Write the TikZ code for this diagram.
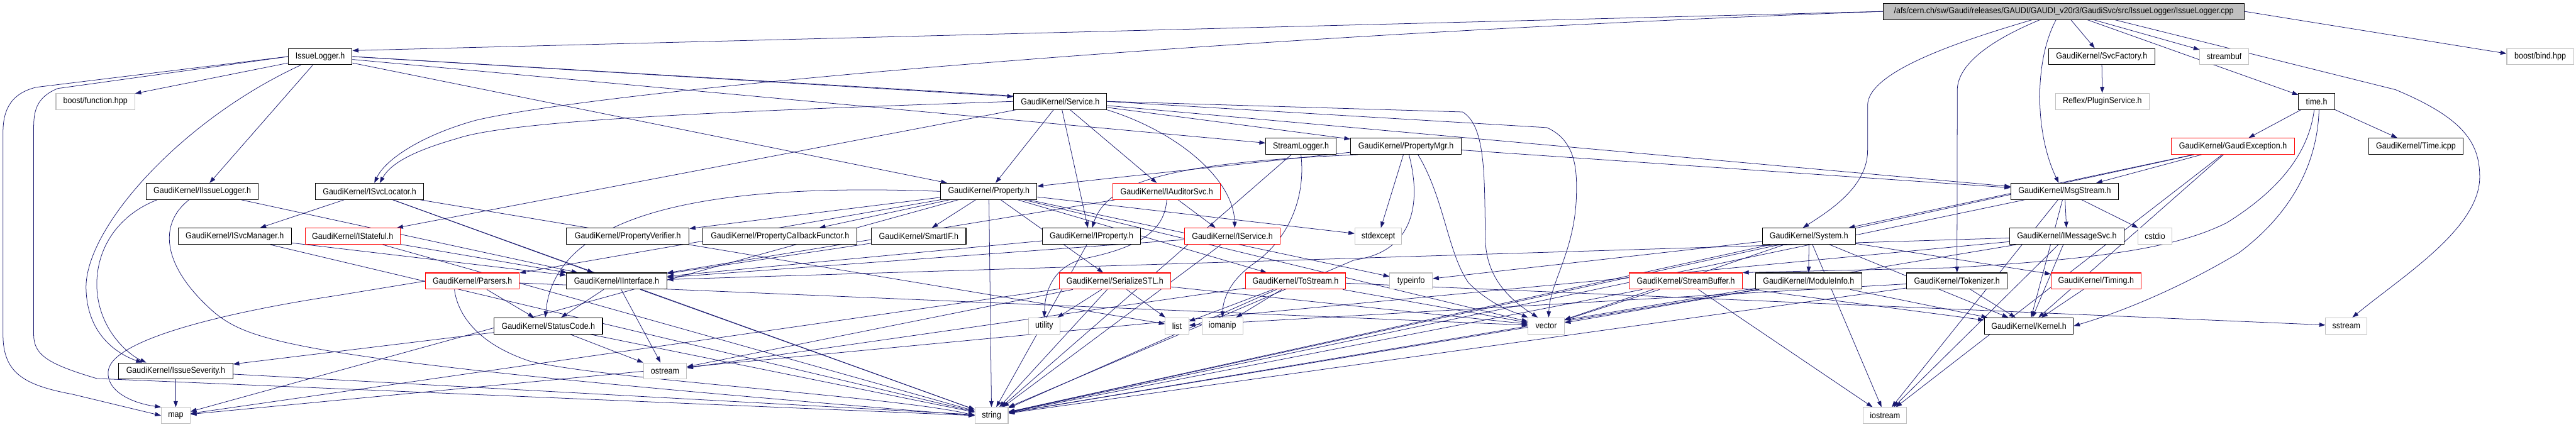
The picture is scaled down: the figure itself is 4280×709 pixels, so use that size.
\documentclass[tikz,border=0pt]{standalone}
\usepackage{fontspec}
\newfontfamily\gfont[FakeStretch=0.9]{Liberation Sans}
\usetikzlibrary{arrows.meta}
\definecolor{edgec}{HTML}{191970}
\definecolor{gbord}{HTML}{BFBFBF}
\definecolor{rootfill}{HTML}{BFBFBF}
\pgfdeclarelayer{edgelayer}
\pgfsetlayers{edgelayer,main}
\tikzset{
  bx/.style={draw=black, fill=white, line width=1.1pt, minimum height=27pt, inner sep=0pt, font=\gfont\fontsize{14.5}{16}\selectfont},
  gx/.style={bx, draw=gbord},
  rx/.style={bx, draw=red},
  ox/.style={bx, fill=rootfill},
  e/.style={draw=edgec, line width=0.8pt, -{Triangle[length=10pt,width=7pt]}}
}
\begin{document}
\begin{tikzpicture}[x=1pt,y=-1pt]
\useasboundingbox (0,0) rectangle (4280,709);
% row 0
\node[ox, minimum width=600pt] (root) at (3429,19) {/afs/cern.ch/sw/Gaudi/releases/GAUDI/GAUDI\_v20r3/GaudiSvc/src/IssueLogger/IssueLogger.cpp};
% row 1
\node[bx, minimum width=106pt] (IL) at (532,94) {IssueLogger.h};
\node[bx, minimum width=176pt] (SF) at (3492,94) {GaudiKernel/SvcFactory.h};
\node[gx, minimum width=81pt] (sbuf) at (3695.5,94) {streambuf};
\node[gx, minimum width=111pt] (bind) at (4220.5,94) {boost/bind.hpp};
% row 2
\node[gx, minimum width=131pt] (bfun) at (158.5,168.5) {boost/function.hpp};
\node[bx, minimum width=155pt] (Svc) at (1761.5,168.5) {GaudiKernel/Service.h};
\node[gx, minimum width=156pt] (RPS) at (3493,168.5) {Reflex/PluginService.h};
\node[bx, minimum width=60pt] (timeh) at (3849,168.5) {time.h};
% row 3
\node[bx, minimum width=117pt] (SL) at (2161.5,243) {StreamLogger.h};
\node[bx, minimum width=184pt] (PMgr) at (2336,243) {GaudiKernel/PropertyMgr.h};
\node[rx, minimum width=204pt] (GE) at (3710,243) {GaudiKernel/GaudiException.h};
\node[bx, minimum width=156pt] (TI) at (4014,243) {GaudiKernel/Time.icpp};
% row 4
\node[bx, minimum width=186pt] (IIL) at (336,318) {GaudiKernel/IIssueLogger.h};
\node[bx, minimum width=180pt] (ISL) at (614,318) {GaudiKernel/ISvcLocator.h};
\node[bx, minimum width=160pt] (Prop) at (1643,318) {GaudiKernel/Property.h};
\node[rx, minimum width=179pt] (IAud) at (1938.5,318) {GaudiKernel/IAuditorSvc.h};
\node[bx, minimum width=179pt] (MS) at (3430.5,318) {GaudiKernel/MsgStream.h};
% row 5
\node[bx, minimum width=188pt] (ISM) at (390,392.5) {GaudiKernel/ISvcManager.h};
\node[rx, minimum width=158pt] (IStf) at (586,392.5) {GaudiKernel/IStateful.h};
\node[bx, minimum width=204pt] (PV) at (1043,392.5) {GaudiKernel/PropertyVerifier.h};
\node[bx, minimum width=256pt] (PCF) at (1296,392.5) {GaudiKernel/PropertyCallbackFunctor.h};
\node[bx, minimum width=157pt] (SIF) at (1526.5,392.5) {GaudiKernel/SmartIF.h};
\node[bx, minimum width=163pt] (IProp) at (1813.5,392.5) {GaudiKernel/IProperty.h};
\node[rx, minimum width=159pt] (ISvc) at (2047.5,392.5) {GaudiKernel/IService.h};
\node[gx, minimum width=78pt] (stdexc) at (2290,392.5) {stdexcept};
\node[bx, minimum width=155pt] (Sys) at (3005.5,392.5) {GaudiKernel/System.h};
\node[bx, minimum width=190pt] (IMS) at (3434,392.5) {GaudiKernel/IMessageSvc.h};
\node[gx, minimum width=57pt] (cstdio) at (3580.5,392.5) {cstdio};
% row 6
\node[rx, minimum width=156pt] (Pars) at (785,467) {GaudiKernel/Parsers.h};
\node[bx, minimum width=167pt] (II) at (1024.5,467) {GaudiKernel/IInterface.h};
\node[rx, minimum width=185pt] (SSTL) at (1852.5,467) {GaudiKernel/SerializeSTL.h};
\node[rx, minimum width=167pt] (ToS) at (2152.5,467) {GaudiKernel/ToStream.h};
\node[gx, minimum width=71pt] (typeinfo) at (2344.5,467) {typeinfo};
\node[rx, minimum width=188pt] (SB) at (2801,467) {GaudiKernel/StreamBuffer.h};
\node[bx, minimum width=176pt] (MI) at (3005,467) {GaudiKernel/ModuleInfo.h};
\node[bx, minimum width=167pt] (Tok) at (3251.5,467) {GaudiKernel/Tokenizer.h};
\node[rx, minimum width=149pt] (Tim) at (3482.5,467) {GaudiKernel/Timing.h};
% row 7
\node[bx, minimum width=180pt] (SC) at (911,541.5) {GaudiKernel/StatusCode.h};
\node[gx, minimum width=52pt] (utility) at (1735,541.5) {utility};
\node[gx, minimum width=39pt] (list) at (1955.5,541.5) {list};
\node[gx, minimum width=68pt] (iomanip) at (2031,541.5) {iomanip};
\node[gx, minimum width=60pt] (vector) at (2569,541.5) {vector};
\node[bx, minimum width=148pt] (Kern) at (3371,541.5) {GaudiKernel/Kernel.h};
\node[gx, minimum width=69pt] (sstream) at (3898.5,541.5) {sstream};
% row 8
\node[bx, minimum width=190pt] (IS) at (292,616.5) {GaudiKernel/IssueSeverity.h};
\node[gx, minimum width=72pt] (ostream) at (1105,616.5) {ostream};
% row 9
\node[gx, minimum width=48pt] (map) at (292,690.5) {map};
\node[gx, minimum width=55pt] (string) at (1647.5,690.5) {string};
\node[gx, minimum width=72pt] (iostream) at (3132,690.5) {iostream};

\begin{pgfonlayer}{edgelayer}
% ---------- straight edges
\foreach \a/\b in {root/SF, root/sbuf, root/timeh,
  SF/RPS, timeh/GE, timeh/TI,
  IL/bfun, IL/IIL, IL/SL, IL/Prop,
  Svc/Prop, Svc/IAud, Svc/PMgr, Svc/IStf, Svc/MS,
  PMgr/Prop, PMgr/stdexc, PMgr/MS,
  GE/MS, GE/Sys, GE/Kern, GE/string, GE/iostream,
  IIL/II, ISL/ISM, ISL/II, ISL/list, ISL/string,
  Prop/PV, Prop/PCF, Prop/SIF, Prop/stdexc, Prop/typeinfo, Prop/ToS, Prop/Pars, Prop/SSTL, Prop/vector, Prop/string, Prop/map,
  IAud/II,
  MS/IMS, MS/cstdio, MS/Kern, MS/iostream, MS/string,
  ISM/II, ISM/string, IStf/II, IStf/string, SIF/II, IProp/II, IProp/string, ISvc/II, ISvc/string,
  Sys/MI, Sys/Tim, Sys/typeinfo, Sys/Kern, Sys/vector, Sys/string, Sys/iostream,
  IMS/II, IMS/Kern, IMS/string, IMS/map, IMS/iostream,
  Pars/SC, Pars/vector, II/SC, II/ostream, II/string,
  SSTL/utility, SSTL/list, SSTL/vector, SSTL/string, SSTL/map, SSTL/ostream,
  ToS/list, ToS/iomanip, ToS/vector, ToS/string, ToS/sstream, ToS/ostream,
  SB/vector, SB/string, SB/iostream, SB/Kern,
  MI/Kern, MI/string, MI/vector,
  Tok/Kern, Tok/string, Tok/list,
  Tim/Kern,
  SC/ostream, SC/IS, SC/string,
  IS/map, IS/string, SL/string}
  \draw[e] (\a) -- (\b);

\draw[e] (root.west) -- ([yshift=10pt]IL.east);
\draw[e] (root.east) -- ([yshift=5pt]bind.west);
\draw[e] (IL.east) -- ([yshift=8pt]Svc.west);
\draw[e] (Svc) -- ([xshift=-6pt]IProp.north);
\draw[e] (IAud) -- ([xshift=-28pt]ISvc.north);

% ---------- curved edges
\draw[e] (root.west) .. controls (2000,60) and (1000,150) .. (790,200) .. controls (700,225) and (640,265) .. ([xshift=8pt]ISL.north);
\draw[e] ([xshift=-13pt]root.south) .. controls (3380,100) and (3380,220) .. ([xshift=-10pt]MS.north);
\draw[e] ([xshift=-53pt]root.south) .. controls (3250,70) and (3103,120) .. (3103,175) -- (3103,250) .. controls (3103,310) and (3040,350) .. ([xshift=-10pt]Sys.north);
\draw[e] ([xshift=-40pt]root.south) .. controls (3300,70) and (3252,110) .. (3252,150) -- (Tok.north);
\draw[e] ([xshift=85pt]root.south) -- (3980,149) .. controls (4090,195) and (4120,235) .. (4120,294) .. controls (4120,380) and (3990,460) .. ([xshift=10pt]sstream.north);
\draw[e] (IL.west) -- (60,145) .. controls (20,155) and (5,180) .. (5,220) -- (5,556) .. controls (5,620) and (40,640) .. (120,655) -- (map.west);
\draw[e] (IL.west) -- (96,147) .. controls (64,160) and (56,180) .. (56,210) -- (56,556) .. controls (56,590) and (80,605) .. (161,629) -- (string.west);
\draw[e] ([xshift=-32pt]IL.south) .. controls (300,200) and (140,380) .. (143,480) .. controls (145,560) and (200,590) .. ([xshift=-56pt]IS.north);
\draw[e] ([xshift=-75pt]IIL.south) .. controls (190,360) and (158,420) .. (161,480) .. controls (165,550) and (215,590) .. ([xshift=-49pt]IS.north);
\draw[e] ([xshift=-22pt]IIL.south) .. controls (265,370) and (265,440) .. (357,520) .. controls (420,570) and (500,600) .. (string.west);
\draw[e] (Svc.west) .. controls (1200,185) and (850,200) .. (760,230) .. controls (690,250) and (650,270) .. ([xshift=17pt]ISL.north);
\draw[e] (Svc.south east) .. controls (1960,220) and (2050,300) .. ([xshift=4pt]ISvc.north);
\draw[e] (Svc.east) -- (2430,186) .. controls (2470,210) and (2466,300) .. (2468,400) .. controls (2470,470) and (2520,505) .. ([xshift=-14pt]vector.north);
\draw[e] (IL.east) -- (2570,212) .. controls (2622,235) and (2620,290) .. (2619,330) .. controls (2615,420) and (2575,470) .. ([xshift=4pt]vector.north);
\draw[e] ([xshift=20pt]PMgr.south) .. controls (2400,330) and (2405,420) .. (2440,470) .. controls (2480,510) and (2520,520) .. (vector.north west);
\draw[e] ([xshift=-80pt]PMgr.south) .. controls (1950,270) and (1840,300) .. ([xshift=1pt]IProp.north);
\draw[e] ([xshift=5pt]PMgr.south) .. controls (2365,350) and (2340,420) .. (2250,432) -- (string.north east);
\draw[e] (SL.south) .. controls (2170,330) and (2140,400) .. (2080,440) .. controls (2040,470) and (2032,500) .. (iomanip.north);
\draw[e] (IAud.south) .. controls (1935,380) and (1900,410) .. (1800,430) .. controls (1745,445) and (1736,490) .. (utility.north);
\draw[e] (Pars.west) -- (560,491) .. controls (400,515) and (190,560) .. (180,615) .. controls (175,650) and (220,670) .. (map.north west);
\draw[e] ([xshift=-30pt]Pars.south) .. controls (760,520) and (790,570) .. (880,600) .. controls (1000,630) and (1500,660) .. (string.west);
\draw[e] ([xshift=-4pt]timeh.south) .. controls (3835,260) and (3780,320) .. (3700,370) .. controls (3620,410) and (3500,430) .. (3240,445) -- (SB.north east);
\draw[e] ([xshift=4pt]timeh.south) .. controls (3850,280) and (3800,360) .. (3720,420) .. controls (3620,480) and (3520,520) .. (Kern.east);
\draw[e] (Prop.west) .. controls (1100,300) and (920,380) .. ([xshift=-5pt]SC.north);
\end{pgfonlayer}
\end{tikzpicture}
\end{document}
